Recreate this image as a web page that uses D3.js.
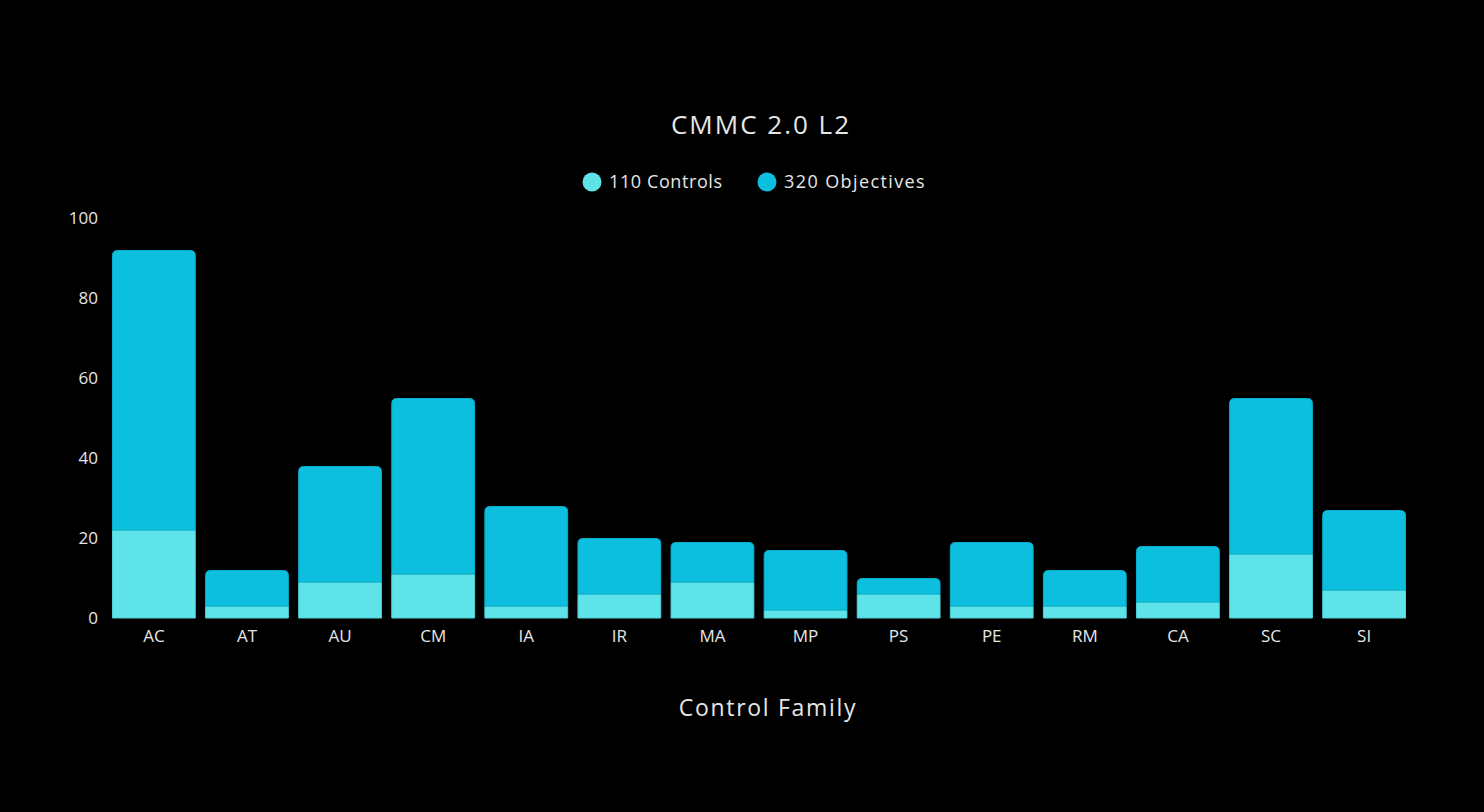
<!DOCTYPE html>
<html>
<head>
<meta charset="utf-8">
<title>CMMC 2.0 L2</title>
<script src="https://d3js.org/d3.v7.min.js"></script>
<style>
  body { margin: 0; background: #000; }
  text { font-family: "Open Sans", "DejaVu Sans", sans-serif; fill: #e6e6e6; }
</style>
</head>
<body>
<svg width="1484" height="812"></svg>
<script>
var families = ["AC", "AT", "AU", "CM", "IA", "IR", "MA", "MP", "PS", "PE", "RM", "CA", "SC", "SI"];
var controls = [22, 3, 9, 11, 3, 6, 9, 2, 6, 3, 3, 4, 16, 7];
var objectives = [70, 9, 29, 44, 25, 14, 10, 15, 4, 16, 9, 14, 39, 20];
var yTicks = [0, 20, 40, 60, 80, 100];
var seriesNames = ["110 Controls", "320 Objectives"];
var colors = ["#5ee3e8", "#0dbfdf"];
var strokes = ["#4fcfd6", "#0aaecb"];

var svg = d3.select("svg");
svg.append("rect").attr("width", 1484).attr("height", 812).attr("fill", "#000");

var x = d3.scaleBand().domain(families).range([112, 1406]).paddingInner(0.1).paddingOuter(0);
var y = d3.scaleLinear().domain([0, 100]).range([618, 218]);

var rows = families.map(function(f, i) {
  return { family: f, controls: controls[i], objectives: objectives[i] };
});
var stacked = d3.stack().keys(["controls", "objectives"])(rows);

// title
svg.append("text").attr("x", 761).attr("y", 134)
  .attr("text-anchor", "middle").style("font-size", "26px").style("letter-spacing", "2px")
  .text("CMMC 2.0 L2");

// legend
var legend = svg.append("g");
var legendX = [592, 767];
seriesNames.forEach(function(name, i) {
  legend.append("circle").attr("cx", legendX[i]).attr("cy", 182).attr("r", 9.5).attr("fill", colors[i]);
  legend.append("text").attr("x", legendX[i] + 17).attr("y", 188)
    .style("font-size", "18px").style("letter-spacing", i === 0 ? "0.6px" : "1.4px").text(name);
});

// y axis labels
svg.append("g").selectAll("text").data(yTicks).join("text")
  .attr("x", 98).attr("y", function(d) { return y(d) + 6; })
  .attr("text-anchor", "end").style("font-size", "17px")
  .text(function(d) { return d; });

// bars
function topRounded(x0, y0, w, h, r) {
  r = Math.min(r, h);
  return "M" + x0 + "," + (y0 + h) +
    "V" + (y0 + r) + "Q" + x0 + "," + y0 + " " + (x0 + r) + "," + y0 +
    "H" + (x0 + w - r) + "Q" + (x0 + w) + "," + y0 + " " + (x0 + w) + "," + (y0 + r) +
    "V" + (y0 + h) + "Z";
}

stacked.forEach(function(layer, li) {
  svg.append("g").selectAll("path").data(layer).join("path")
    .attr("d", function(d) {
      var x0 = x(d.data.family), w = x.bandwidth();
      var yt = y(d[1]), h = y(d[0]) - y(d[1]);
      if (li === 1) return topRounded(x0 + 0.5, yt + 0.5, w - 1, h - 0.5, 5);
      return "M" + (x0 + 0.5) + "," + (yt + 0.5) + "h" + (w - 1) + "v" + (h - 0.5) + "h" + (1 - w) + "Z";
    })
    .attr("fill", colors[li])
    .attr("stroke", strokes[li])
    .attr("stroke-width", 1);
});

// x labels
svg.append("g").selectAll("text").data(families).join("text")
  .attr("x", function(d) { return x(d) + x.bandwidth() / 2; })
  .attr("y", 642).attr("text-anchor", "middle").style("font-size", "17px")
  .text(function(d) { return d; });

svg.append("text").attr("x", 768).attr("y", 716)
  .attr("text-anchor", "middle").style("font-size", "23px").style("letter-spacing", "1.7px")
  .text("Control Family");
</script>
</body>
</html>
